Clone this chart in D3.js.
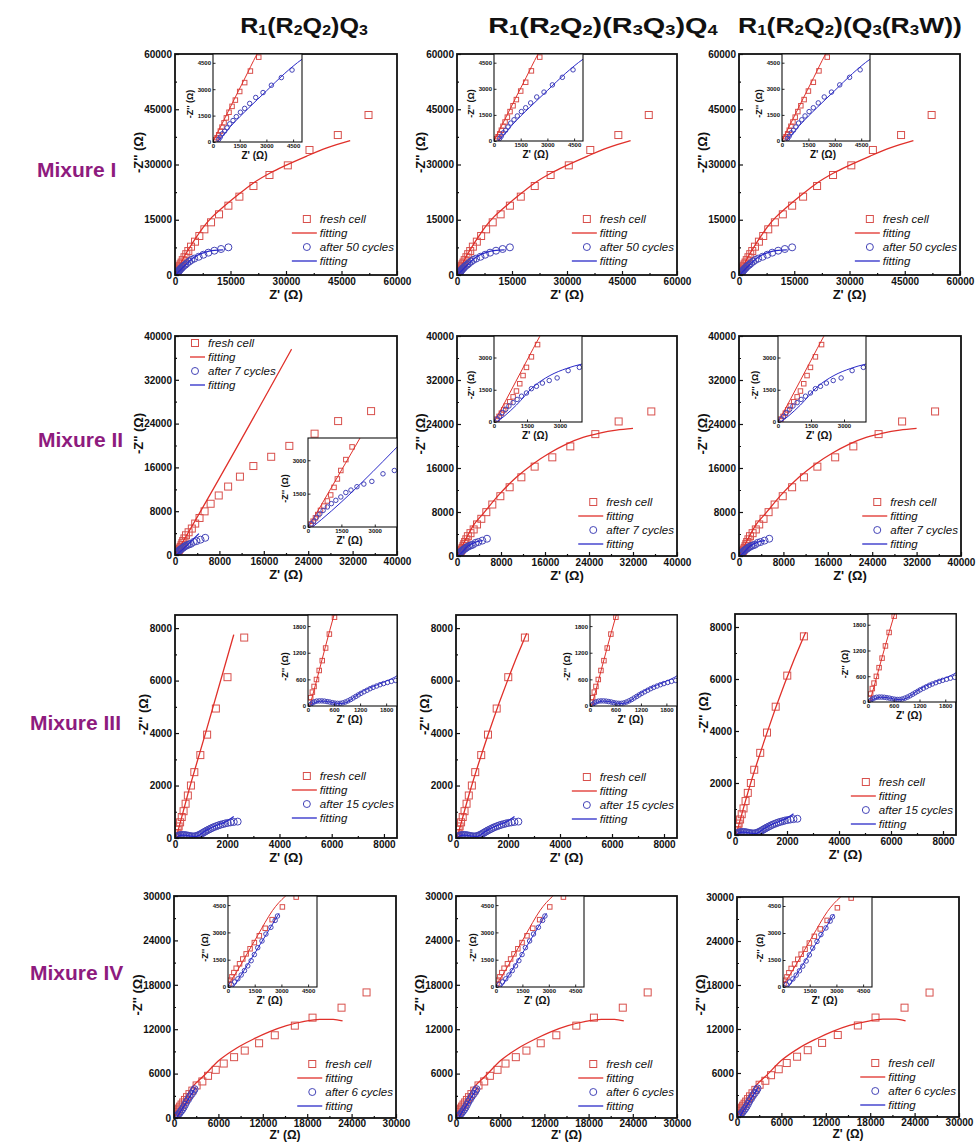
<!DOCTYPE html>
<html><head><meta charset="utf-8">
<script src="https://cdn.jsdelivr.net/npm/d3@7"></script>
<style>
body{margin:0;background:#fff}
svg{display:block}
text{font-family:"Liberation Sans",Arial,Helvetica,sans-serif}
</style>
</head><body>
<svg id="c" width="976" height="1143"></svg>
<script>
// ---------------- DATA ----------------
const titleParts = [
  [["R",0],["1",1],["(R",0],["2",1],["Q",0],["2",1],[")Q",0],["3",1]],
  [["R",0],["1",1],["(R",0],["2",1],["Q",0],["2",1],[")(R",0],["3",1],["Q",0],["3",1],[")Q",0],["4",1]],
  [["R",0],["1",1],["(R",0],["2",1],["Q",0],["2",1],[")(Q",0],["3",1],["(R",0],["3",1],["W))",0]]
];
const rowLabels = ["Mixure I", "Mixure II", "Mixure III", "Mixure IV"];
const legendFresh = ["fresh cell", "fitting"];
const cycleLabels = ["after 50 cycles", "after 7 cycles", "after 15 cycles", "after 6 cycles"];

const mainMax = [60000, 40000, 8500, 30000];
const mainTicks = [
  [0, 15000, 30000, 45000, 60000],
  [0, 8000, 16000, 24000, 32000, 40000],
  [0, 2000, 4000, 6000, 8000],
  [0, 6000, 12000, 18000, 24000, 30000]
];
const insetMax = [5000, 4000, 2050, 5000];
const insetTicks = [
  [0, 1500, 3000, 4500],
  [0, 1500, 3000],
  [0, 600, 1200, 1800],
  [0, 1500, 3000, 4500]
];

// Mixure I
const fresh1 = [[150,130],[225,245],[320,410],[413,620],[506,845],[620,1090],[750,1370],[900,1690],[1070,2025],[1256,2380],[1500,2870],[1780,3375],[2100,4030],[2570,4820],[3050,5650],[3600,6500],[4330,7690],[5410,9050],[6580,10590],[7940,12400],[9740,14300],[11900,16470],[14430,18820],[17400,21270],[21200,24160],[25530,27150],[30490,29770],[36350,33940],[44000,38000],[52300,43440]];
const cyc1 = [[320,150],[410,280],[525,470],[656,620],[790,806],[940,1030],[1125,1220],[1310,1440],[1540,1690],[1780,1910],[2060,2190],[2400,2530],[2810,2810],[3280,3225],[3840,3660],[4440,4090],[5200,4450],[6400,4950],[7670,5500],[9020,6060],[10640,6600],[12450,7060],[14430,7510]];
const fitF1 = [[20,50],[600,1220],[1200,2440],[1800,3640],[2440,4930],[3200,6200],[4500,8300],[6000,10600],[7670,13000],[10000,15700],[12180,17700],[16690,21500],[21200,25000],[25700,27700],[30220,29900],[35630,32300],[41040,34500],[47350,36500]];
const fitC1 = [[250,30],[500,300],[1000,900],[2000,1930],[3000,2900],[4000,3870],[5000,4700],[6000,5300],[7000,5800],[8500,6300],[10000,6600],[11500,6750],[13000,6800]];

// Mixure II
const fresh2 = [[135,135],[230,260],[335,410],[440,560],[560,745],[715,940],[870,1170],[1020,1440],[1170,1780],[1320,2160],[1475,2540],[1700,3030],[1980,3600],[2450,4150],[3030,4830],[3640,5740],[4420,6760],[5330,7970],[6420,9360],[7880,10870],[9570,12500],[11700,14310],[14120,16250],[17330,17940],[20600,19930],[25150,22160],[29390,24460],[35330,26280]];
const cyc2 = [[150,140],[260,260],[380,440],[530,590],[680,745],[870,900],[1050,1050],[1250,1200],[1475,1350],[1700,1550],[1930,1660],[2200,1810],[2510,1930],[2870,2050],[3370,2390],[3880,2540],[4600,2800],[5450,3140]];
const fitF2 = [[30,40],[500,930],[1000,1900],[1500,2870],[2080,3980],[3000,5600],[4730,7670],[7760,11290],[10790,14310],[13820,16730],[16850,18720],[19880,20350],[22910,21560],[25940,22350],[28970,22890],[32000,23200]];
const fitC2 = [[150,20],[500,300],[1020,790],[1780,1630],[2540,2160],[3300,2490],[3980,2690],[4700,2800]];
const fitF2a = [[50,50],[400,650],[21000,37600]];
const fitC2a = [[200,0],[600,330],[4300,3900]];

// Mixure III
const fresh3 = [[30,90],[62,187],[100,313],[140,440],[195,597],[258,800],[328,1022],[406,1306],[492,1620],[610,2000],[740,2510],[970,3160],[1230,3940],[1565,4935],[2010,6130],[2650,7640]];
const cyc3 = [[60,30],[100,70],[150,95],[200,110],[260,115],[320,115],[380,110],[440,100],[500,90],[560,75],[620,65],[680,60],[740,60],[800,70],[860,90],[920,115],[980,145],[1040,180],[1100,215],[1160,250],[1220,285],[1290,320],[1360,355],[1430,390],[1500,420],[1580,450],[1660,480],[1740,505],[1830,530],[1920,555],[2020,575],[2130,595],[2250,610],[2400,625]];
const fitF3 = [[40,0],[110,250],[500,1650],[1220,3900],[2650,7640],[2720,7800]];
const fitF3a = [[40,0],[110,250],[500,1700],[1200,4100],[2250,7750]];
const fitC3 = [[60,0],[150,80],[300,110],[450,100],[600,70],[750,55],[900,90],[1050,190],[1200,300],[1400,400],[1600,480],[1800,560],[2000,650],[2250,820]];

// Mixure IV
const fresh4 = [[55,190],[130,375],[220,560],[330,790],[460,1030],[650,1275],[830,1540],[1020,1820],[1240,2100],[1480,2440],[1760,2814],[2090,3227],[2480,3700],[3055,4400],[3830,4940],[4600,5700],[5640,6510],[6720,7360],[8120,8220],[9560,9110],[11500,10100],[13620,11180],[16330,12480],[18720,13560],[22640,14910],[26020,16970]];
const cyc4 = [[185,150],[370,280],[555,450],[740,660],[925,900],[1110,1160],[1300,1445],[1480,1780],[1670,2160],[1910,2530],[2130,2910],[2410,3280],[2650,3660],[2780,3900]];
const fitF4 = [[0,100],[500,850],[1000,1700],[1670,2840],[2500,4200],[3920,5610],[6180,7860],[8430,9430],[10690,10640],[12940,11670],[15200,12480],[17450,13020],[19710,13340],[21510,13340],[22780,13110]];
const fitC4 = [[300,0],[700,600],[1500,1850],[2870,4050]];

const freshData = [fresh1, fresh2, fresh3, fresh4];
const cycData = [cyc1, cyc2, cyc3, cyc4];
const fitFresh = [[fitF1, fitF1, fitF1],[fitF2a, fitF2, fitF2],[fitF3a, fitF3, fitF3],[fitF4, fitF4, fitF4]];
const fitCyc = [[fitC1, fitC1, fitC1],[fitC2a, fitC2, fitC2],[fitC3, fitC3, fitC3],[fitC4, fitC4, fitC4]];

// ---------------- LAYOUT ----------------
const mainBoxes = [
  [[175,54,397,275],[457,54,677,275],[739,54,960,275]],
  [[175,336,397,555],[457,336,677,556],[739,336,961,556]],
  [[175,615,397,838],[456,615,677,838],[735,614,956,835]],
  [[174,896,396,1118],[456,896,677,1118],[737,897,959,1117]]
];
const insetBoxes = [
  [[213,54,302,142],[494,54,583,141],[782,54,870,141]],
  [[308,438,397,527],[494,336,582,422],[778,336,866,422]],
  [[308,615,397,706],[590,615,677,706],[868,614,956,702]],
  [[228,896,317,987],[496,896,584,987],[783,897,872,987]]
];
const legendTop = [[56,56,56],[0,54,54],[62,61,53],[54,54,54]];
const ytitleOff = [37, 37, 32, 37];
const xtitleY = [24, 24, 24, 21];
const xtitleSize = [13, 13, 13, 12];
const titleX = [304, 603, 850];
const titleW = [128, 230, 224];
const rowLabelPos = [[37,177],[38,447],[30,730],[30,980]];

const RED_M = "#d8504c", RED_L = "#e0302a", BLUE_M = "#4444b8", BLUE_L = "#2a2ac8";

const svg = d3.select("#c");
const defs = svg.append("defs");
svg.append("rect").attr("width",976).attr("height",1143).attr("fill","#fff");

// titles
titleParts.forEach((parts, i) => {
  const t = svg.append("text").attr("x", titleX[i]).attr("y", 33)
    .attr("text-anchor", "middle").attr("font-weight", "bold").attr("font-size", 22).attr("fill", "#111");
  let shifted = false;
  parts.forEach(([s, sub]) => {
    const ts = t.append("tspan").text(s).attr("font-size", sub ? 14 : 22);
    if (sub && !shifted) { ts.attr("dy", 2); shifted = true; }
    else if (!sub && shifted) { ts.attr("dy", -2); shifted = false; }
  });
  const w = t.node().getBBox().width;
  const cx = titleX[i];
  t.attr("transform", `translate(${cx},0) scale(${titleW[i] / w},1) translate(${-cx},0)`);
});

// row labels
rowLabels.forEach((lab, i) => {
  svg.append("text").attr("x", rowLabelPos[i][0]).attr("y", rowLabelPos[i][1])
    .attr("font-size", 21).attr("font-weight", "bold").attr("fill", "#8e1b7e").text(lab);
});

function drawSeries(g, data, x, y, kind, color, size, clip) {
  const gg = g.append("g").attr("clip-path", `url(#${clip})`);
  if (kind === "square") {
    gg.selectAll("rect").data(data).join("rect")
      .attr("x", d => x(d[0]) - size / 2).attr("y", d => y(d[1]) - size / 2)
      .attr("width", size).attr("height", size)
      .attr("fill", "none").attr("stroke", color).attr("stroke-width", 1);
  } else {
    gg.selectAll("circle").data(data).join("circle")
      .attr("cx", d => x(d[0])).attr("cy", d => y(d[1])).attr("r", size / 2)
      .attr("fill", "none").attr("stroke", color).attr("stroke-width", 1);
  }
}
function drawLine(g, data, x, y, color, w, clip) {
  const line = d3.line().x(d => x(d[0])).y(d => y(d[1])).curve(d3.curveMonotoneX);
  g.append("path").attr("clip-path", `url(#${clip})`).attr("d", line(data))
    .attr("fill", "none").attr("stroke", color).attr("stroke-width", w);
}
function addClip(id, L, T, R, B) {
  defs.append("clipPath").attr("id", id).append("rect")
    .attr("x", L).attr("y", T).attr("width", R - L).attr("height", B - T);
}
function midpoints(t) {
  const m = [];
  for (let i = 0; i < t.length - 1; i++) m.push((t[i] + t[i + 1]) / 2);
  return m;
}

function panel(r, c) {
  const [L, T, R, B] = mainBoxes[r][c];
  const x = d3.scaleLinear().domain([0, mainMax[r]]).range([L, R]);
  const y = d3.scaleLinear().domain([0, mainMax[r]]).range([B, T]);
  const g = svg.append("g");
  const clip = `mc${r}${c}`;
  addClip(clip, L, T, R, B);

  // data
  drawSeries(g, freshData[r], x, y, "square", RED_M, 7, clip);
  drawLine(g, fitFresh[r][c], x, y, RED_L, 1.3, clip);
  drawSeries(g, cycData[r], x, y, "circle", BLUE_M, 7, clip);
  drawLine(g, fitCyc[r][c], x, y, BLUE_L, 1.3, clip);

  // axes
  const ticks = mainTicks[r];
  const minor = midpoints(ticks);
  const fmt = d3.format("d");
  const pad = r === 3 ? 2 : 3;
  const xa = g.append("g").attr("transform", `translate(0,${B})`)
    .call(d3.axisBottom(x).tickValues(ticks).tickFormat(fmt).tickSizeInner(-4).tickSizeOuter(0).tickPadding(pad));
  const xm = g.append("g").attr("transform", `translate(0,${B})`)
    .call(d3.axisBottom(x).tickValues(minor).tickFormat("").tickSizeInner(-2).tickSizeOuter(0));
  const ya = g.append("g").attr("transform", `translate(${L},0)`)
    .call(d3.axisLeft(y).tickValues(ticks).tickFormat(fmt).tickSizeInner(-4).tickSizeOuter(0).tickPadding(3));
  const ym = g.append("g").attr("transform", `translate(${L},0)`)
    .call(d3.axisLeft(y).tickValues(minor).tickFormat("").tickSizeInner(-2).tickSizeOuter(0));
  [xa, xm, ya, ym].forEach(a => {
    a.select(".domain").remove();
    a.selectAll("line").attr("stroke", "#111").attr("stroke-width", 1.2);
    a.selectAll("text").attr("font-size", 10).attr("font-weight", "bold").attr("fill", "#111")
      .attr("font-family", '"Liberation Sans",Arial,sans-serif');
  });
  g.append("rect").attr("x", L).attr("y", T).attr("width", R - L).attr("height", B - T)
    .attr("fill", "none").attr("stroke", "#111").attr("stroke-width", 1.8);

  // axis titles
  g.append("text").attr("x", (L + R) / 2).attr("y", B + xtitleY[r]).attr("text-anchor", "middle")
    .attr("font-size", xtitleSize[r]).attr("font-weight", "bold").attr("fill", "#111").text("Z' (Ω)");
  const yc = (T + B) / 2 - 12, xc = L - ytitleOff[r];
  g.append("text").attr("transform", `translate(${xc},${yc}) rotate(-90)`)
    .attr("text-anchor", "middle").attr("dy", "0.35em")
    .attr("font-size", 13).attr("font-weight", "bold").attr("fill", "#111").text("-Z'' (Ω)");

  // inset
  const [iL, iT, iR, iB] = insetBoxes[r][c];
  const ix = d3.scaleLinear().domain([0, insetMax[r]]).range([iL, iR]);
  const iy = d3.scaleLinear().domain([0, insetMax[r]]).range([iB, iT]);
  const ig = svg.append("g");
  const iclip = `ic${r}${c}`;
  addClip(iclip, iL, iT, iR, iB);
  ig.append("rect").attr("x", iL).attr("y", iT).attr("width", iR - iL).attr("height", iB - iT).attr("fill", "#fff");
  drawSeries(ig, freshData[r], ix, iy, "square", RED_M, 4.5, iclip);
  drawLine(ig, fitFresh[r][c], ix, iy, RED_L, 1, iclip);
  drawSeries(ig, cycData[r], ix, iy, "circle", BLUE_M, 4.5, iclip);
  drawLine(ig, fitCyc[r][c], ix, iy, BLUE_L, 1, iclip);
  const it = insetTicks[r];
  const ixa = ig.append("g").attr("transform", `translate(0,${iB})`)
    .call(d3.axisBottom(ix).tickValues(it).tickFormat(fmt).tickSizeInner(-2.5).tickSizeOuter(0).tickPadding(2));
  const iya = ig.append("g").attr("transform", `translate(${iL},0)`)
    .call(d3.axisLeft(iy).tickValues(it).tickFormat(fmt).tickSizeInner(-2.5).tickSizeOuter(0).tickPadding(2));
  [ixa, iya].forEach(a => {
    a.select(".domain").remove();
    a.selectAll("line").attr("stroke", "#111").attr("stroke-width", 0.9);
    a.selectAll("text").attr("font-size", 6).attr("font-weight", "bold").attr("fill", "#111")
      .attr("font-family", '"Liberation Sans",Arial,sans-serif');
  });
  ig.append("rect").attr("x", iL).attr("y", iT).attr("width", iR - iL).attr("height", iB - iT)
    .attr("fill", "none").attr("stroke", "#111").attr("stroke-width", 1.1);
  ig.append("text").attr("x", (iL + iR) / 2 - 3).attr("y", iB + 17).attr("text-anchor", "middle")
    .attr("font-size", 10).attr("font-weight", "bold").attr("fill", "#111").text("Z' (Ω)");
  ig.append("text").attr("transform", `translate(${iL - 23},${(iT + iB) / 2 + 6}) rotate(-90)`)
    .attr("text-anchor", "middle").attr("dy", "0.35em")
    .attr("font-size", 9).attr("font-weight", "bold").attr("fill", "#111").text("-Z'' (Ω)");

  // legend
  const labels = [legendFresh[0], legendFresh[1], cycleLabels[r], legendFresh[1]];
  const lg = svg.append("g");
  const texts = labels.map((s, i) => lg.append("text").attr("font-size", 11.5).attr("font-style", "italic")
    .attr("fill", "#111").attr("dy", "0.35em").text(s));
  const maxW = d3.max(texts, t => t.node().getComputedTextLength());
  let tx, y0, lineLen;
  if (r === 1 && c === 0) {
    tx = L + 33; y0 = T + 7; lineLen = 15;
  } else {
    tx = R - 3 - maxW; y0 = B - legendTop[r][c]; lineLen = 25;
  }
  texts.forEach((t, i) => t.attr("x", tx).attr("y", y0 + i * 14));
  const sx = tx - 13;
  lg.append("rect").attr("x", sx - 3.5).attr("y", y0 - 3.5).attr("width", 7).attr("height", 7)
    .attr("fill", "none").attr("stroke", RED_M).attr("stroke-width", 1);
  lg.append("line").attr("x1", tx - 3 - lineLen).attr("x2", tx - 3).attr("y1", y0 + 14).attr("y2", y0 + 14)
    .attr("stroke", RED_L).attr("stroke-width", 1.3);
  lg.append("circle").attr("cx", sx).attr("cy", y0 + 28).attr("r", 3.5)
    .attr("fill", "none").attr("stroke", BLUE_M).attr("stroke-width", 1);
  lg.append("line").attr("x1", tx - 3 - lineLen).attr("x2", tx - 3).attr("y1", y0 + 42).attr("y2", y0 + 42)
    .attr("stroke", BLUE_L).attr("stroke-width", 1.3);
}

for (let r = 0; r < 4; r++) for (let c = 0; c < 3; c++) panel(r, c);
</script>
</body></html>
